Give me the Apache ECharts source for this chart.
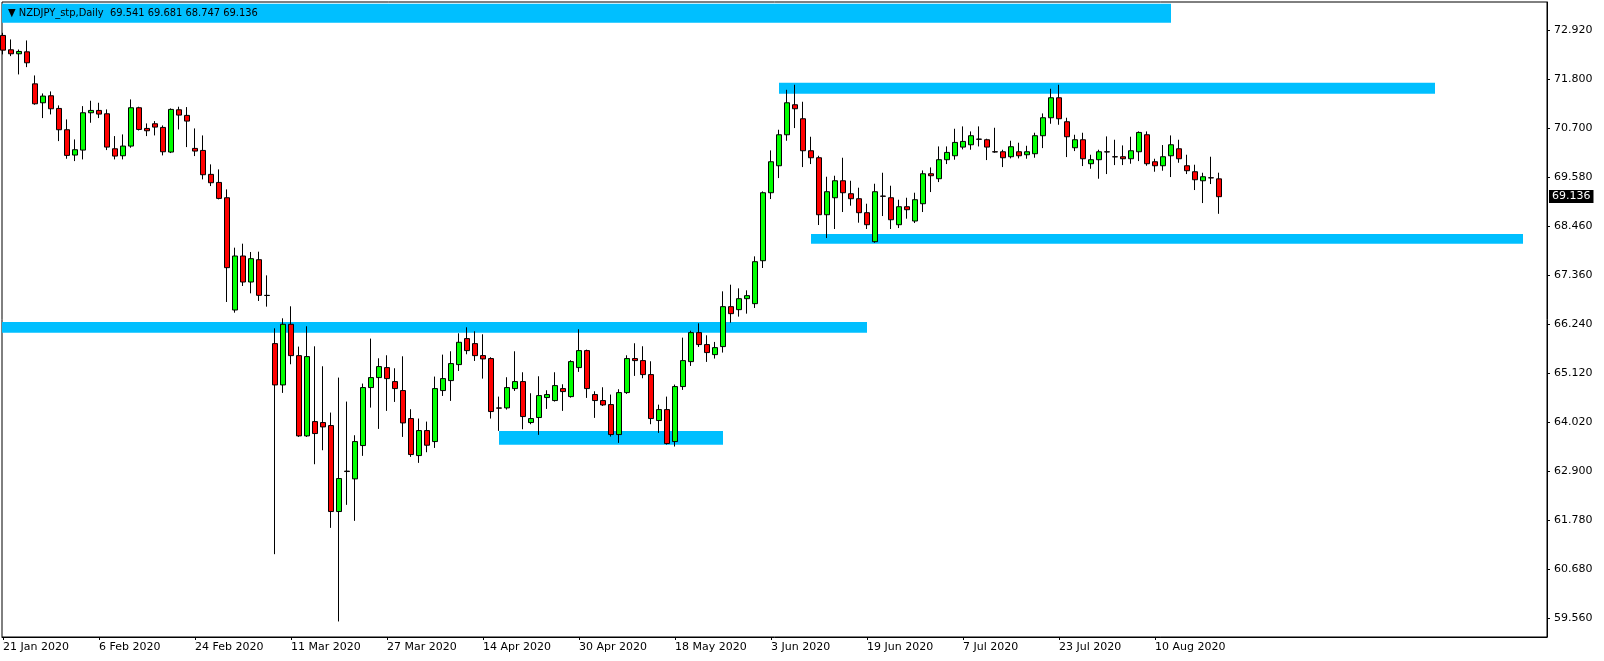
<!DOCTYPE html>
<html><head><meta charset="utf-8">
<script src="https://cdn.jsdelivr.net/npm/echarts@6/dist/echarts.min.js"></script>
<style>html,body{margin:0;padding:0;background:#fff}#c{width:1604px;height:661px}</style>
</head><body><div id="c"></div>
<script>
// ---- data (bar index = trading day from 21 Jan 2020) ----
const opens = [72.80,72.474,72.383,72.428,71.70,71.27,71.429,71.141,70.657,70.082,70.195,71.043,71.096,71.02,70.225,70.066,70.286,71.157,70.687,70.793,
70.71,70.15,71.111,70.983,70.233,70.187,69.643,69.46,69.112,66.561,67.788,67.197,67.704,66.894,65.797,64.858,66.236,65.524,63.70,64.025,
64.003,63.935,61.981,62.90,62.723,63.48,64.798,65.025,65.252,64.934,64.73,64.094,63.253,63.821,63.571,64.73,64.957,65.32,65.911,65.797,
65.525,65.457,64.336,64.336,64.775,64.934,64.003,64.117,64.571,64.503,64.775,64.593,65.252,65.638,64.639,64.503,64.412,63.73,64.684,65.457,
65.411,65.093,64.049,64.298,63.571,64.821,65.388,66.047,65.775,65.547,65.729,66.637,66.569,66.818,66.705,67.681,69.226,69.839,70.543,71.225,
70.907,70.18,70.021,68.726,69.112,69.498,69.203,69.09,68.772,68.113,69.15,69.112,68.499,68.908,68.583,68.976,69.657,69.544,69.976,70.066,
70.263,70.316,70.445,70.43,70.157,70.157,70.044,70.157,70.089,70.112,70.521,70.93,71.384,70.839,70.248,70.43,69.885,69.976,70.157,70.044,
70.044,69.998,70.157,70.543,69.93,69.839,70.066,70.225,69.839,69.703,69.498,69.567,69.541];
const highs = [72.86,72.709,72.48,72.686,71.891,71.482,71.528,71.21,70.892,70.437,71.194,71.316,71.27,71.119,70.513,70.551,71.346,71.18,70.801,70.854,
70.755,71.142,71.18,71.172,70.687,70.528,69.87,69.756,69.302,67.977,68.068,67.879,67.886,67.348,66.145,66.372,66.645,65.729,66.191,65.736,
65.282,64.23,65.025,64.48,63.715,64.889,65.911,65.464,65.532,65.237,65.509,64.306,64.094,64.025,65.048,65.547,65.623,66.032,66.168,66.077,
66.009,65.487,64.593,65.033,65.623,65.146,64.669,65.055,64.737,65.146,64.873,65.419,66.123,65.66,64.714,64.805,64.639,64.76,65.532,65.805,
65.737,65.396,64.41,64.593,64.866,65.933,66.09,66.259,65.986,65.835,66.985,67.136,67.053,67.008,67.78,69.256,70.187,70.657,71.565,71.679,
71.293,70.498,70.066,69.589,69.612,70.021,69.498,69.34,68.976,69.43,69.68,69.385,69.067,69.112,69.226,69.733,69.801,70.278,70.278,70.68,
70.733,70.619,70.733,70.453,70.702,70.203,70.407,70.362,70.293,70.589,71.028,71.588,71.679,70.93,70.543,70.589,70.089,70.203,70.506,70.43,
70.301,70.498,70.619,70.619,69.998,70.309,70.528,70.43,70.089,69.862,69.68,70.044,69.681];
const lows = [72.37,72.33,71.914,72.08,71.225,70.922,71.005,70.399,69.998,69.945,69.983,70.816,70.922,70.195,69.983,69.983,70.248,70.64,70.513,70.528,
70.074,70.127,70.664,70.263,70.059,69.529,69.377,69.075,66.743,66.50,67.106,66.94,66.766,66.637,61.012,64.677,65.328,63.677,63.677,63.056,
63.374,61.61,59.483,62.133,61.769,63.246,64.343,63.859,64.268,64.472,63.677,63.223,63.087,63.329,63.427,64.608,64.495,65.176,65.555,65.403,
65.002,64.094,63.814,64.298,64.722,63.851,63.965,63.723,64.313,64.48,64.268,64.57,65.154,64.563,64.109,64.38,63.685,63.541,64.654,65.063,
65.01,63.965,63.768,63.503,63.458,64.745,65.29,65.721,65.381,65.457,65.593,66.273,66.41,66.478,66.607,67.515,69.082,69.559,70.407,70.695,
69.809,69.877,68.492,68.196,68.401,68.787,68.931,68.545,68.401,68.09,68.696,68.401,68.423,68.636,68.537,68.787,69.241,69.468,69.877,69.976,
70.21,70.203,70.278,69.968,70.135,69.809,70.006,70.006,69.998,70.021,70.24,70.793,70.77,70.036,70.172,69.832,69.771,69.544,69.65,69.854,
69.854,69.885,69.945,69.839,69.703,69.726,69.582,69.907,69.65,69.287,68.991,69.423,68.747];
const closes = [72.466,72.383,72.436,72.179,71.247,71.422,71.134,70.657,70.074,70.203,71.043,71.096,71.013,70.263,70.059,70.286,71.157,70.664,70.634,70.717,
70.157,71.119,70.99,70.854,70.172,69.635,69.453,69.097,67.523,67.788,67.197,67.727,66.894,66.89,64.858,66.236,65.524,63.70,65.502,63.753,
63.904,61.981,62.731,62.89,63.571,64.798,65.025,65.275,65.002,64.775,63.995,63.276,63.821,63.488,64.775,65.002,65.343,65.827,65.638,65.524,
65.449,64.253,64.33,64.798,64.934,64.139,64.094,64.616,64.639,64.843,64.707,65.388,65.638,64.775,64.503,64.404,63.73,64.684,65.457,65.411,
65.093,64.094,64.298,63.526,64.821,65.411,66.047,65.775,65.593,65.706,66.637,66.478,66.818,66.887,67.659,69.226,69.93,70.543,71.27,71.134,
70.18,70.021,68.726,69.249,69.498,69.226,69.09,68.772,68.499,69.249,69.145,68.612,68.908,68.84,69.067,69.657,69.612,69.976,70.142,70.369,
70.392,70.521,70.44,70.263,70.152,70.021,70.271,70.066,70.157,70.521,70.93,71.384,70.907,70.498,70.43,69.998,69.976,70.157,70.152,70.04,
69.998,70.18,70.596,69.885,69.839,70.044,70.316,69.998,69.726,69.521,69.589,69.562,69.136];

const dateTickIdx = [0,12,24,36,48,60,72,84,96,108,120,132,144];
const dateTickLabels = ['21 Jan 2020','6 Feb 2020','24 Feb 2020','11 Mar 2020','27 Mar 2020','14 Apr 2020','30 Apr 2020',
  '18 May 2020','3 Jun 2020','19 Jun 2020','7 Jul 2020','23 Jul 2020','10 Aug 2020'];
const priceTicks = [72.920,71.800,70.700,69.580,68.460,67.360,66.240,65.120,64.020,62.900,61.780,60.680,59.560];
const lastPrice = 69.136;
const headerText = '▼ NZDJPY_stp,Daily  69.541 69.681 68.747 69.136';

// zones: [fromBar, toBar, lowPrice, highPrice]
const zoneFrom = [-0.125, 97, 101, -0.125, 62];
const zoneTo   = [146, 179, 190, 108, 90];
const zoneLow  = [73.09, 71.476, 68.067, 66.044, 63.50];
const zoneHigh = [73.52, 71.726, 68.287, 66.287, 63.81];

// ---- chart ----
const FONT = 'DejaVu Sans';
const candles = opens.map((o, i) => [i, o, closes[i], lows[i], highs[i]]);
const zoneData = zoneFrom.map((f, k) => [
  {xAxis: f, yAxis: zoneLow[k]},
  {xAxis: zoneTo[k], yAxis: zoneHigh[k]}
]);

const chart = echarts.init(document.getElementById('c'), null, {renderer: 'canvas'});
chart.setOption({
  animation: false,
  backgroundColor: '#fff',
  title: {
    text: headerText,
    left: 3, top: 3,
    textStyle: {fontFamily: "'DejaVu Sans Condensed', 'DejaVu Sans'", fontSize: 11, fontWeight: 'normal', color: '#000'}
  },
  grid: {
    left: 2, top: 2, right: 57, bottom: 24,
    show: true, borderColor: '#000', borderWidth: 1, backgroundColor: '#fff',
    containLabel: false, outerBoundsMode: 'none'
  },
  xAxis: {
    type: 'value', min: -0.125, max: 193,
    axisLine: {show: true, onZero: false, lineStyle: {color: '#000', width: 1}},
    axisTick: {show: true, length: 3, inside: false, customValues: dateTickIdx, lineStyle: {color: '#000'}},
    axisLabel: {
      customValues: dateTickIdx,
      formatter: v => { const k = dateTickIdx.indexOf(Math.round(v)); return k >= 0 ? dateTickLabels[k] : ''; },
      align: 'left', margin: 5, color: '#000', fontFamily: FONT, fontSize: 11
    },
    splitLine: {show: false}
  },
  yAxis: {
    type: 'value', position: 'right', min: 59.13, max: 73.56,
    axisLine: {show: true, onZero: false, lineStyle: {color: '#000', width: 1}},
    axisTick: {show: true, length: 3, customValues: priceTicks, lineStyle: {color: '#000'}},
    axisLabel: {
      customValues: priceTicks,
      formatter: v => v.toFixed(3),
      margin: 7, color: '#000', fontFamily: FONT, fontSize: 11
    },
    splitLine: {show: false}
  },
  series: [{
    type: 'candlestick',
    data: candles,
    barWidth: 5,
    clip: true,
    itemStyle: {
      color: '#00ff00', color0: '#ff0000',
      borderColor: '#000', borderColor0: '#000', borderColorDoji: '#000', borderWidth: 1
    },
    markArea: {
      silent: true,
      z: 1,
      label: {show: false},
      itemStyle: {color: '#00bfff', opacity: 1, borderWidth: 0},
      emphasis: {disabled: true},
      data: zoneData
    },
    markLine: {
      silent: true,
      symbol: ['none', 'none'],
      lineStyle: {color: 'rgba(0,0,0,0)', width: 0},
      label: {
        show: true, position: 'end', distance: 2,
        formatter: () => lastPrice.toFixed(3),
        color: '#fff', backgroundColor: '#000',
        fontFamily: FONT, fontSize: 11, lineHeight: 12, padding: [1, 3, 0, 3]
      },
      emphasis: {disabled: true},
      data: [{yAxis: lastPrice}]
    }
  }]
});
</script></body></html>
